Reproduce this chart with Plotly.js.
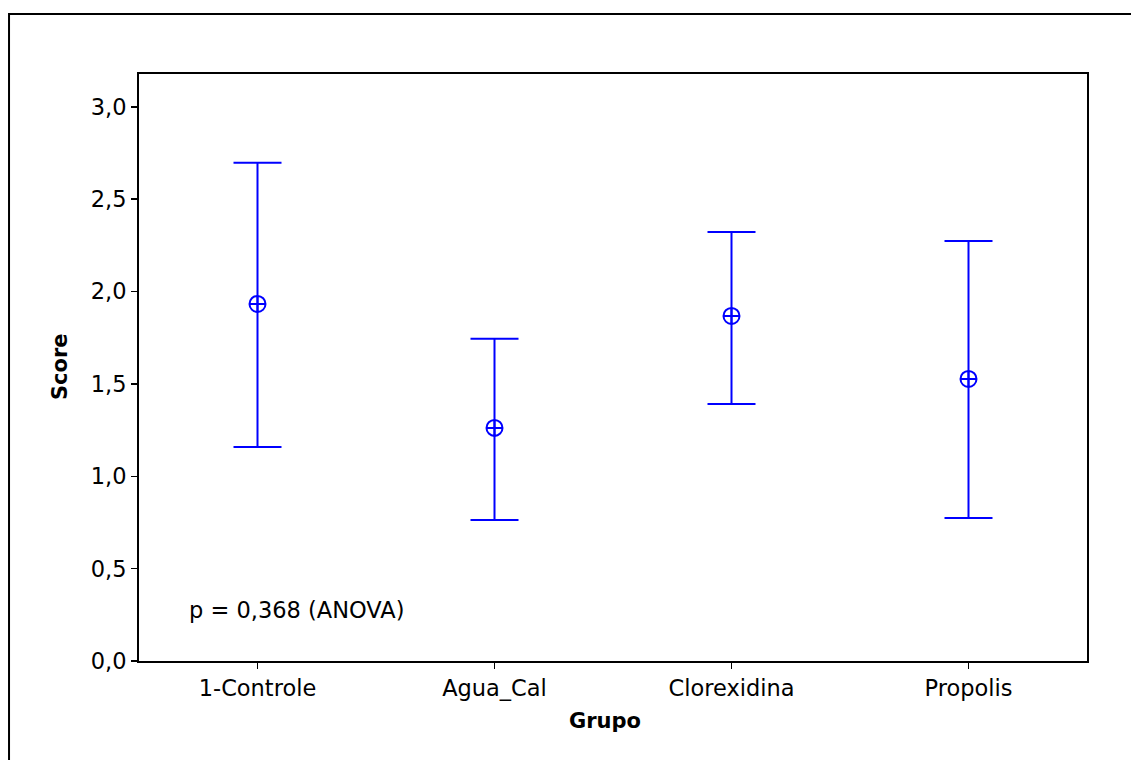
<!DOCTYPE html>
<html>
<head>
<meta charset="utf-8">
<script src="https://cdn.plot.ly/plotly-3.0.1.min.js"></script>
<style>html,body{margin:0;padding:0;background:#fff;}#chart{width:1131px;height:760px;}</style>
</head>
<body>
<div id="chart"></div>
<script>
// Data (interval plot of Score by Grupo)
const groups = ["1-Controle", "Agua_Cal", "Clorexidina", "Propolis"];
const means  = [1.933, 1.262, 1.868, 1.527];
const upper  = [2.697, 1.744, 2.323, 2.274];
const lower  = [1.159, 0.764, 1.392, 0.774];
const yTicks = [0, 0.5, 1.0, 1.5, 2.0, 2.5, 3.0];
const note = "p = 0,368 (ANOVA)";
const xTitle = "Grupo";
const yTitle = "Score";

const plus  = upper.map((u, i) => u - means[i]);
const minus = means.map((m, i) => m - lower[i]);

const FONT = "Tahoma, 'DejaVu Sans', sans-serif";
const BLUE = "#0000ff";
const TS = 22.5;

const trace = {
  type: "scatter",
  mode: "markers",
  x: groups,
  y: means,
  marker: {symbol: "circle-cross-open", size: 16, color: BLUE, line: {color: BLUE, width: 2}},
  error_y: {type: "data", symmetric: false, array: plus, arrayminus: minus,
            color: BLUE, thickness: 2, width: 24},
  hoverinfo: "skip",
  showlegend: false
};

const layout = {
  width: 1131, height: 760,
  margin: {l: 139, r: 44, t: 74, b: 99},
  paper_bgcolor: "#ffffff",
  plot_bgcolor: "#ffffff",
  separators: ",.",
  font: {family: FONT, size: TS, color: "#000"},
  xaxis: {
    type: "category",
    range: [-0.5, 3.5],
    showgrid: false, zeroline: false,
    showline: true, linecolor: "#000", linewidth: 2, mirror: true,
    ticks: "outside", ticklen: 6, tickwidth: 1.5, tickcolor: "#000",
    tickfont: {family: FONT, size: TS, color: "#000"}
  },
  yaxis: {
    range: [0, 3.178],
    tickvals: yTicks,
    tickformat: ".1f",
    showgrid: false, zeroline: false,
    showline: true, linecolor: "#000", linewidth: 2, mirror: true,
    ticks: "outside", ticklen: 6, tickwidth: 1.5, tickcolor: "#000",
    tickfont: {family: FONT, size: TS, color: "#000"}
  },
  annotations: [
    {text: note, xref: "paper", yref: "paper",
     x: 0.0506, y: 0.087, xanchor: "left", yanchor: "middle",
     showarrow: false, font: {family: FONT, size: TS, color: "#000"}},
    {text: "<b>" + xTitle + "</b>", xref: "paper", yref: "paper",
     x: 0.4916, y: -0.1022, xanchor: "center", yanchor: "middle",
     showarrow: false, font: {family: FONT, size: 21, color: "#000"}},
    {text: "<b>" + yTitle + "</b>", xref: "paper", yref: "paper",
     x: -0.0833, y: 0.5009, xanchor: "center", yanchor: "middle", textangle: -90,
     showarrow: false, font: {family: FONT, size: 21, color: "#000"}}
  ],
  shapes: [{
    type: "rect", xref: "paper", yref: "paper",
    x0: -0.1371, x1: 1.3, y0: -0.4, y1: 1.1022,
    line: {color: "#000", width: 2}, fillcolor: "rgba(0,0,0,0)", layer: "below"
  }]
};

Plotly.newPlot("chart", [trace], layout, {staticPlot: true, displayModeBar: false});
</script>
</body>
</html>
